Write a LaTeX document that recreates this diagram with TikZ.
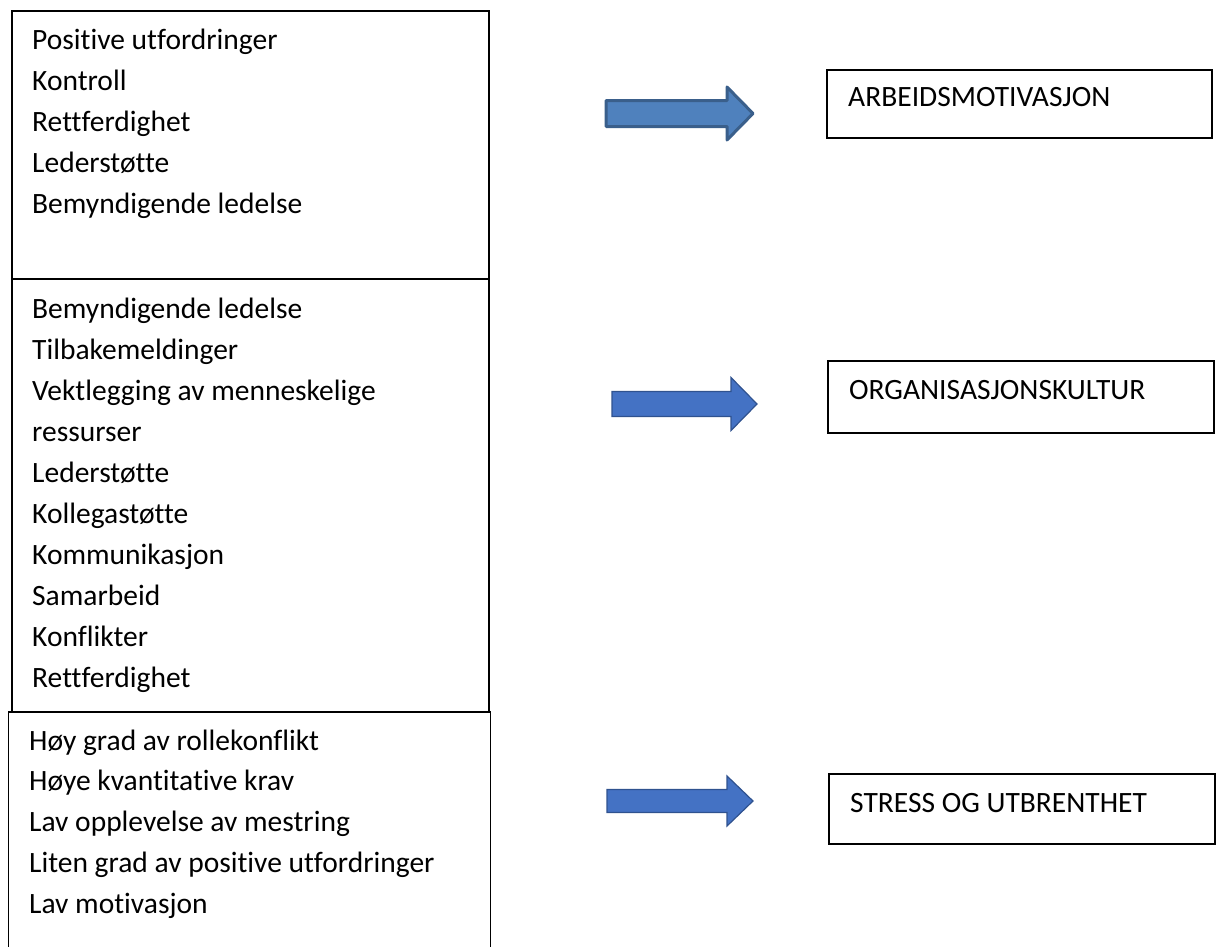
\documentclass[tikz,border=0pt]{standalone}
\usepackage{fontspec}
\setmainfont{Carlito}[Ligatures=CommonOff]
\usetikzlibrary{positioning}
\definecolor{pilFyll}{HTML}{4F81BD}
\definecolor{pilKant}{HTML}{3A5F8B}
\definecolor{pilFyllB}{HTML}{4472C4}
\definecolor{pilKantB}{HTML}{2F528F}
\tikzset{
  boks/.style={draw=black,line width=1.5pt,anchor=north west,inner sep=0pt},
  punkt/.style={anchor=base west,inner sep=0pt,font=\fontsize{29.5}{35}\selectfont},
  pilA/.style={fill=pilFyll,draw=pilKant,line width=3pt,line join=round},
  pilB/.style={fill=pilFyllB,draw=pilKantB,line width=1.2pt},
}
% #1 stil, #2 start x, #3 hode x, #4 spiss x, #5 midt y, #6 halv kropp, #7 halvt hode
\newcommand{\blokkpil}[7]{%
  \draw[#1] (#2,#5-#6) -- (#3,#5-#6) -- (#3,#5-#7) -- (#4,#5) -- (#3,#5+#7)
    -- (#3,#5+#6) -- (#2,#5+#6) -- cycle;}

\begin{document}
\begin{tikzpicture}[x=1pt,y=-1pt]
\useasboundingbox (0,0) rectangle (1230,946);
\clip (0,0) rectangle (1230,946);

% venstre kolonne
\node[boks,minimum width=477,minimum height=268] (faktorA) at (11,10) {};
\node[boks,minimum width=477,minimum height=433] (faktorB) at (11,278) {};
\node[boks,minimum width=482,minimum height=260] (faktorC) at (7.5,711) {};
\foreach \tekst [count=\i] in {Positive utfordringer,Kontroll,Rettferdighet,%
  Lederstøtte,Bemyndigende ledelse}
  \node[punkt] (a\i) at (32,{49+41*(\i-1)}) {\tekst};
\foreach \tekst [count=\i] in {Bemyndigende ledelse,Tilbakemeldinger,%
  Vektlegging av menneskelige,ressurser,Lederstøtte,Kollegastøtte,%
  Kommunikasjon,Samarbeid,Konflikter,Rettferdighet}
  \node[punkt] (b\i) at (32,{318+41.1*(\i-1)}) {\tekst};
\foreach \tekst [count=\i] in {Høy grad av rollekonflikt,Høye kvantitative krav,%
  Lav opplevelse av mestring,Liten grad av positive utfordringer,Lav motivasjon}
  \node[punkt] (c\i) at (29,{750+40.8*(\i-1)}) {\tekst};

% piler
\blokkpil{pilA}{606}{727}{753}{113.5}{13}{26.5}
\blokkpil{pilB}{612}{731}{757}{404}{12.5}{26.5}
\blokkpil{pilB}{607}{727}{753}{801}{11.5}{25}

% hoyre kolonne
\node[boks,minimum width=385,minimum height=68] (motivasjon) at (826,69) {};
\node[punkt] (motivasjonTekst) at (848,106) {ARBEIDSMOTIVASJON};
\node[boks,minimum width=386,minimum height=72] (kultur) at (827,360) {};
\node[punkt] (kulturTekst) at (849,399) {ORGANISASJONSKULTUR};
\node[boks,minimum width=386,minimum height=70] (stress) at (828,773) {};
\node[punkt] (stressTekst) at (850,812) {STRESS OG UTBRENTHET};
\end{tikzpicture}
\end{document}
